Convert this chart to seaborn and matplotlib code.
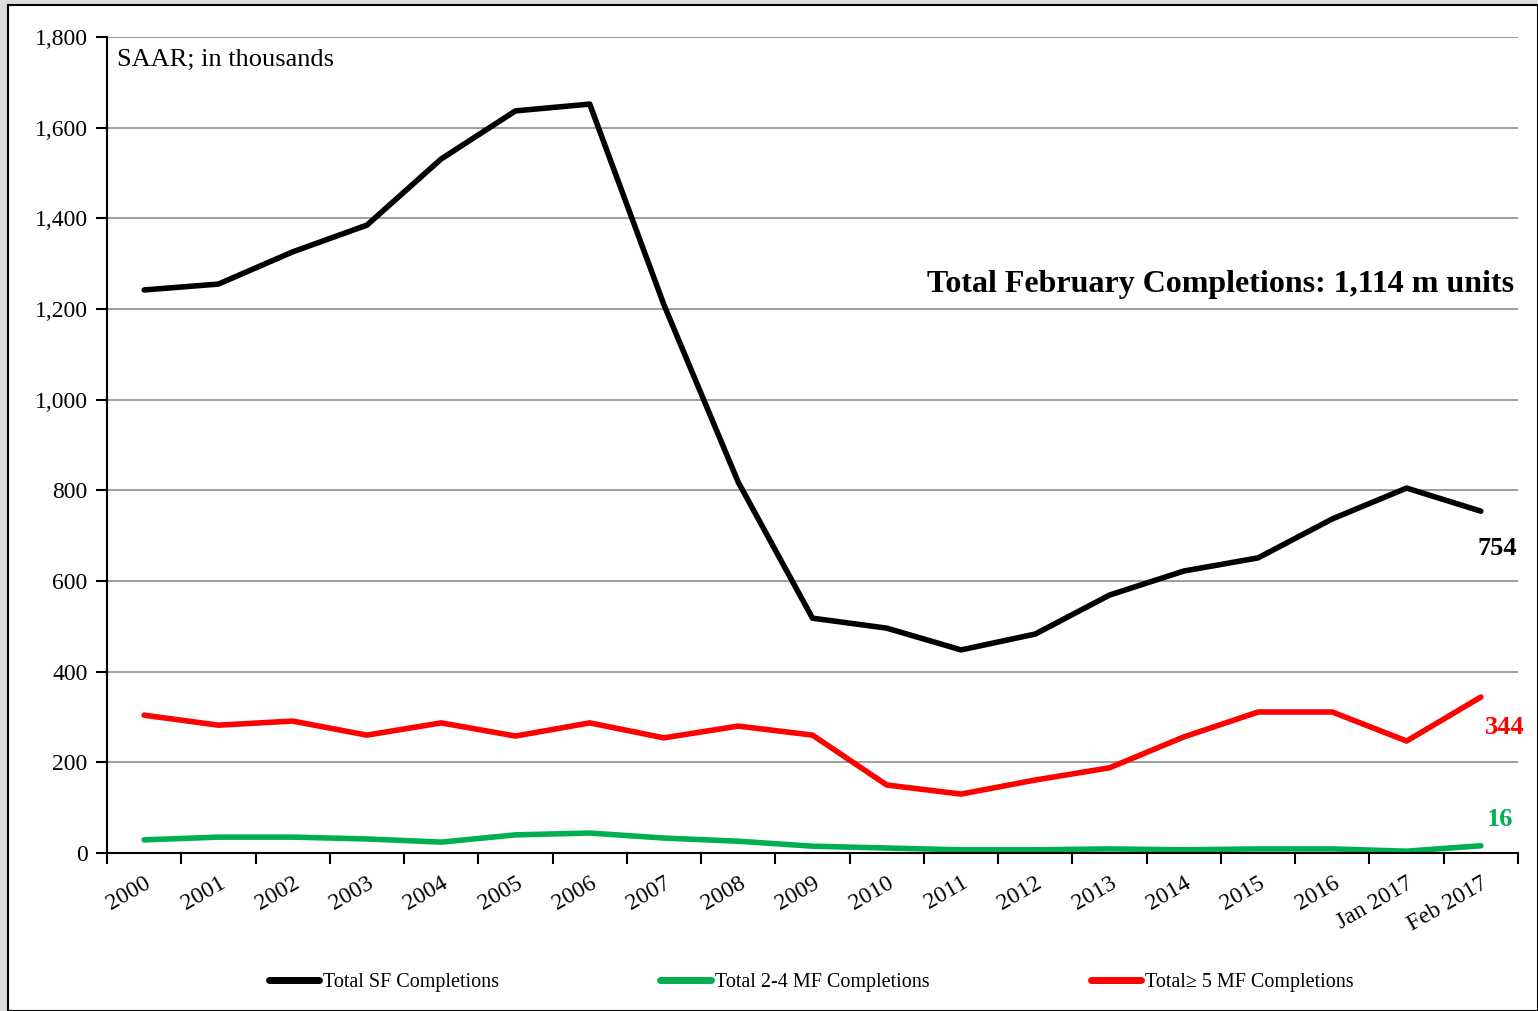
import pandas as pd
import matplotlib.pyplot as plt
import seaborn as sns
from matplotlib.patches import Rectangle
from matplotlib.ticker import FuncFormatter, FixedLocator

# Dane (SAAR, w tysiacach)
periods = ['2000', '2001', '2002', '2003', '2004', '2005', '2006', '2007', '2008',
           '2009', '2010', '2011', '2012', '2013', '2014', '2015', '2016',
           'Jan 2017', 'Feb 2017']
sf = [1242, 1255, 1326, 1385, 1531, 1637, 1652, 1209, 818, 518, 496, 448, 483,
      569, 622, 651, 737, 805, 754]
mf24 = [29, 35, 35, 31, 24, 40, 44, 33, 26, 15, 11, 7, 7, 9, 7, 9, 9, 4, 16]
mf5 = [304, 282, 291, 260, 287, 258, 287, 254, 280, 260, 150, 130, 161, 188,
       256, 311, 311, 247, 344]

names = ['Total SF Completions', 'Total 2-4 MF Completions', 'Total\u2265 5 MF Completions']
colors = ['#000000', '#00B050', '#FF0000']

df = pd.DataFrame({
    'period': periods * 3,
    'value': sf + mf24 + mf5,
    'series': [names[0]] * len(periods) + [names[1]] * len(periods) + [names[2]] * len(periods),
})

sns.set_style('white')
plt.rcParams['font.family'] = ['Liberation Serif', 'DejaVu Serif']
plt.rcParams['text.color'] = 'black'
plt.rcParams['xtick.color'] = 'black'
plt.rcParams['ytick.color'] = 'black'

fig = plt.figure(figsize=(15.38, 10.11), dpi=100, facecolor='#dcdcdc')
# bialy panel z ramka (tlo jak w oryginale)
fig.patches.append(Rectangle((8 / 1538, 0), 1 - 8 / 1538, 1 - 5 / 1011,
                             transform=fig.transFigure, facecolor='white',
                             edgecolor='black', linewidth=1.5, zorder=-10))
ax = fig.add_axes([107 / 1538, 1 - 853 / 1011, (1518 - 107) / 1538, (853 - 37) / 1011])
ax.set_zorder(5)
ax.set_facecolor('none')

sns.lineplot(data=df, x='period', y='value', hue='series', palette=colors,
             linewidth=4, sort=False, ax=ax, legend=False)

n = len(periods)
ax.set_xlim(-0.5, n - 0.5)
ax.set_ylim(0, 1800)
ax.set_yticks(range(0, 1801, 200))
ax.yaxis.set_major_formatter(FuncFormatter(lambda v, p: f'{int(v):,}'))
ax.grid(axis='y', color='#8c8c8c', linewidth=1.2)
ax.set_axisbelow(True)

ax.set_xticks(range(n))
ax.set_xticklabels(periods, rotation=30, ha='right', rotation_mode='anchor')
ax.xaxis.set_minor_locator(FixedLocator([i - 0.5 for i in range(n + 1)]))
ax.tick_params(axis='x', which='major', length=0, pad=14, labelsize=17, labelcolor='black')
ax.tick_params(axis='x', which='minor', length=8, width=1.5, direction='out', color='black')
ax.tick_params(axis='y', length=8, width=1.5, direction='out', color='black', labelsize=17,
               pad=6, labelcolor='black')
ax.tick_params(bottom=True, left=True, which='both')

for s in ['top', 'right']:
    ax.spines[s].set_visible(False)
for s in ['left', 'bottom']:
    ax.spines[s].set_color('black')
    ax.spines[s].set_linewidth(1.5)
ax.set_xlabel('')
ax.set_ylabel('')

ax.text(0.007, 0.985, 'SAAR; in thousands', transform=ax.transAxes, fontsize=19,
        va='top', ha='left', color='black')
ax.text(0.997, 0.697, 'Total February Completions: 1,114 m units', transform=ax.transAxes,
        fontsize=23, fontweight='bold', ha='right', va='center', color='black')

ax.annotate(f'{sf[-1]}', (n - 1, sf[-1]), xytext=(12, -27), textcoords='offset points',
            ha='center', va='center', fontsize=19, fontweight='bold', color=colors[0])
ax.annotate(f'{mf5[-1]}', (n - 1, mf5[-1]), xytext=(17, -22), textcoords='offset points',
            ha='center', va='center', fontsize=19, fontweight='bold', color=colors[2])
ax.annotate(f'{mf24[-1]}', (n - 1, mf24[-1]), xytext=(14, 19), textcoords='offset points',
            ha='center', va='center', fontsize=19, fontweight='bold', color=colors[1])

handles = [plt.Line2D([], [], color=c, linewidth=5, solid_capstyle='round') for c in colors]
fig.legend(handles, names, loc='center', bbox_to_anchor=(0.5275, 1 - 982 / 1011), ncol=3,
           frameon=False, fontsize=14.5, handlelength=2.5, handletextpad=0.2,
           columnspacing=8.0, labelcolor='black')

fig.savefig('out.png', dpi=100, facecolor=fig.get_facecolor())
